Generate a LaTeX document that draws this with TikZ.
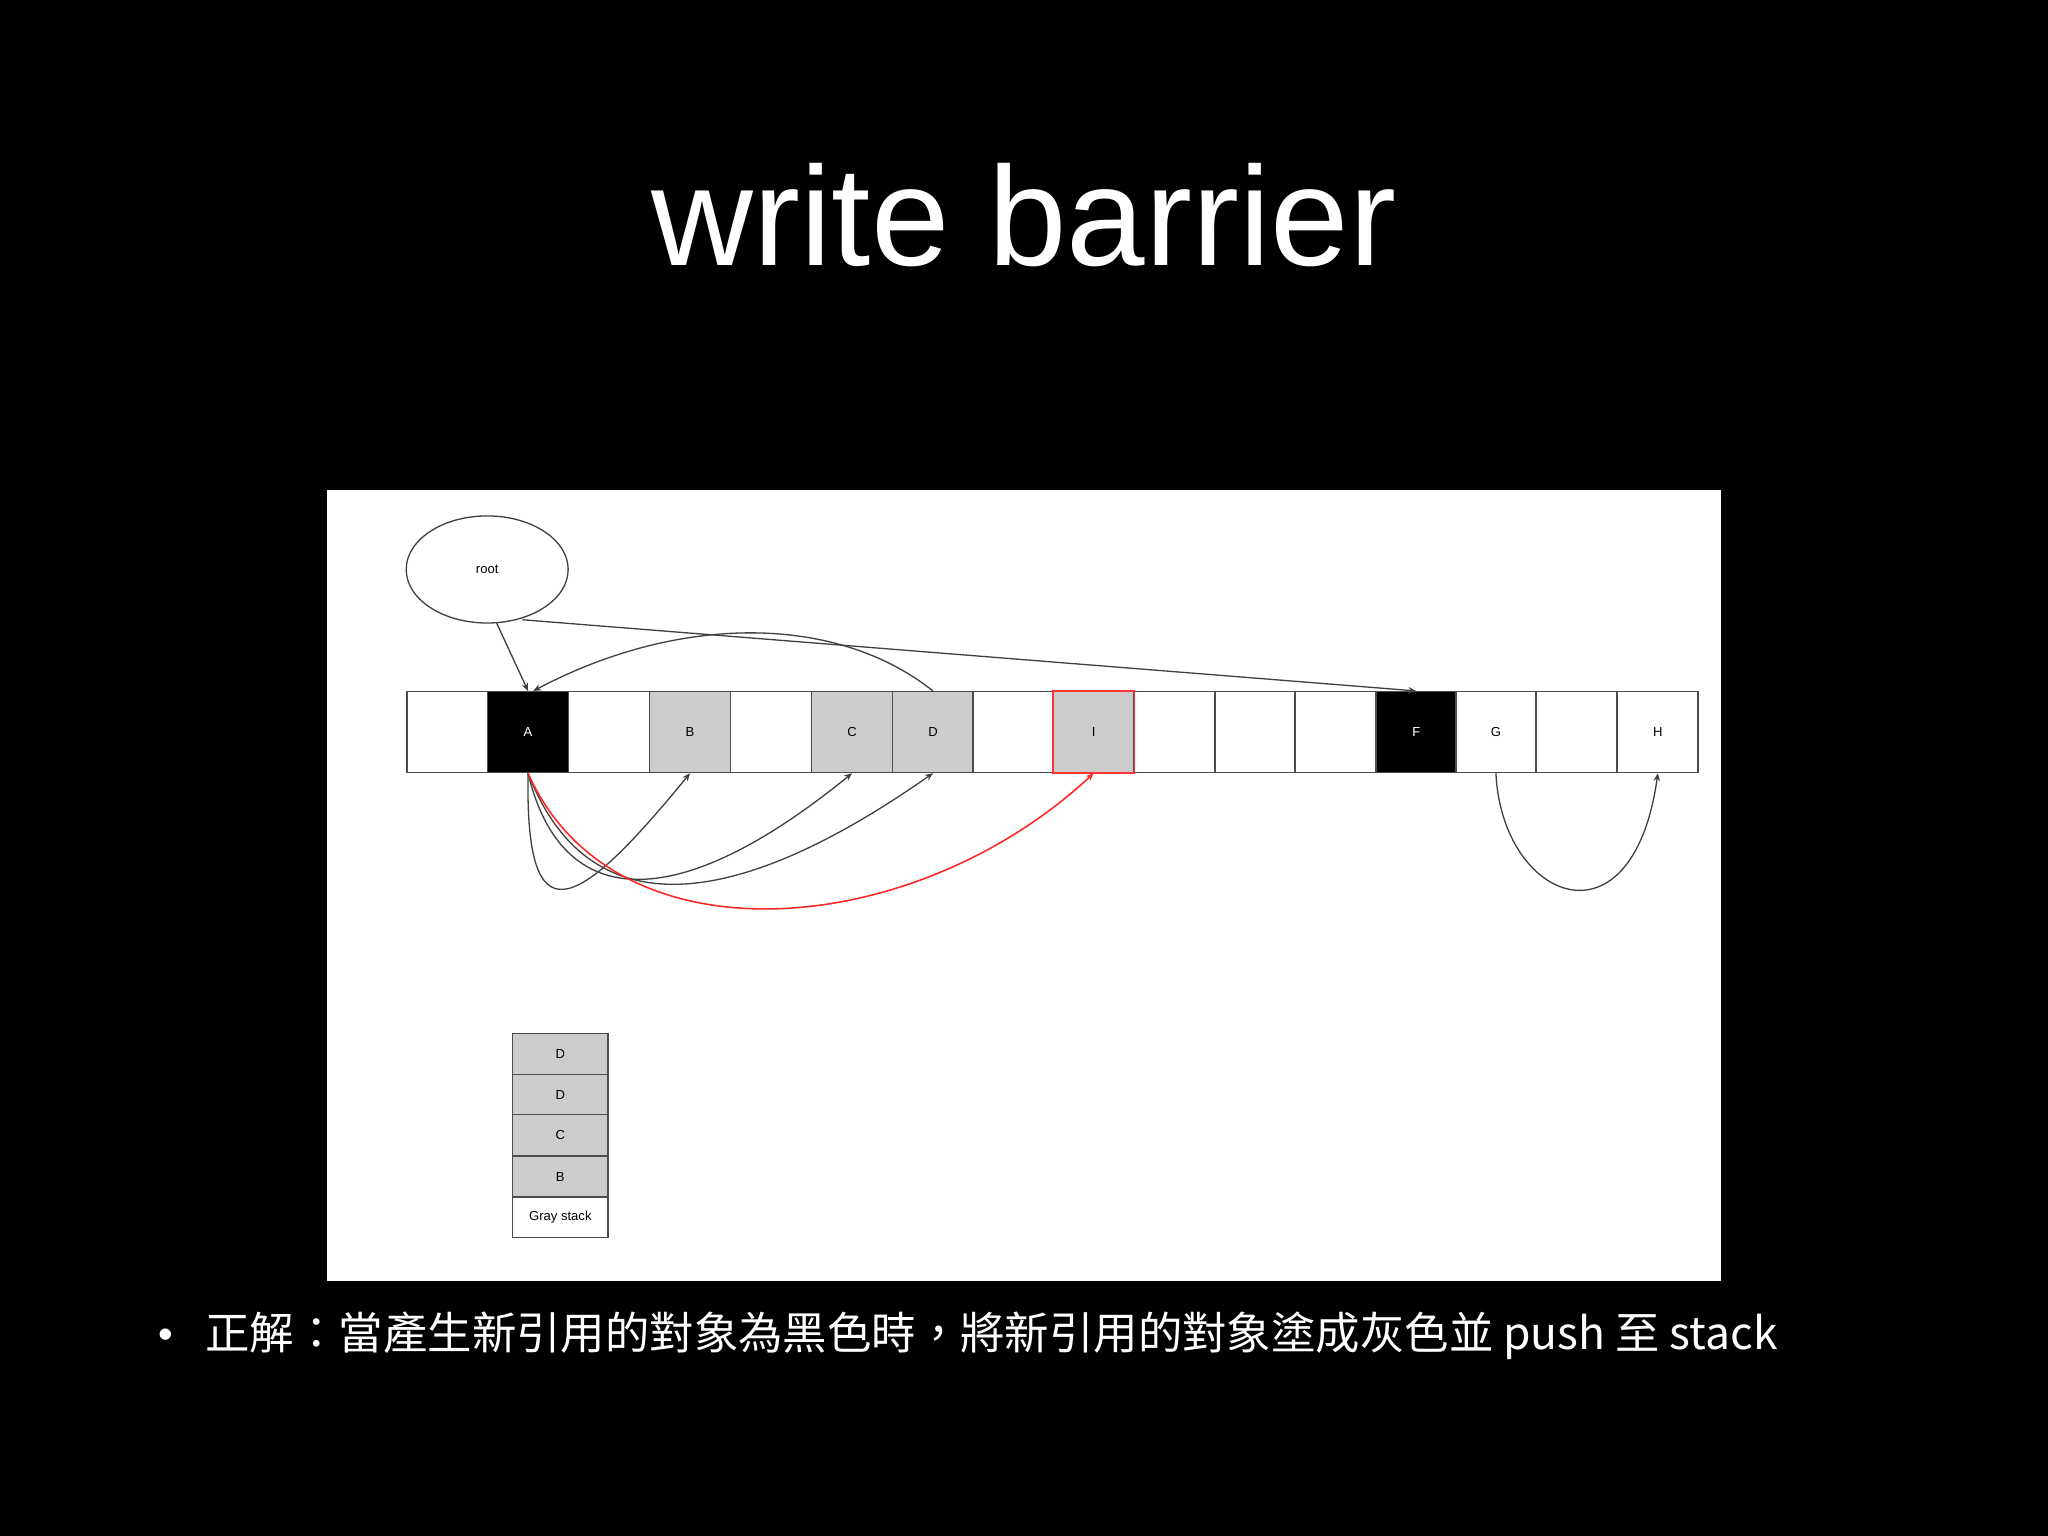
\documentclass[tikz,border=0pt]{standalone}
\usepackage{fontspec}
\usetikzlibrary{arrows.meta,shapes.geometric}
\setmainfont{Liberation Sans}
\newfontfamily\cjk{Noto Sans CJK TC}
\begin{document}
\begin{tikzpicture}[x=0.5pt,y=-0.5pt,
  cell/.style={draw=black!70,line width=0.5pt,minimum width=30.8pt,minimum height=31pt,inner sep=0pt,font=\fontsize{5}{6}\selectfont,anchor=north west},
  gcell/.style={cell,fill=black!20},
  bcell/.style={cell,fill=black,text=white},
  conn/.style={draw=black!75,line width=0.5pt,-{Stealth[length=3pt,width=2.5pt]}},
  rconn/.style={draw=red!85,line width=0.6pt,-{Stealth[length=3pt,width=2.5pt]}},
  scell/.style={draw=black!70,line width=0.5pt,fill=black!20,minimum width=36.5pt,minimum height=15.5pt,inner sep=0pt,font=\fontsize{5}{6}\selectfont,anchor=north west}]
\fill[black] (0,0) rectangle (1568,1176);
\fill[white] (250,375) rectangle (1318,981);
\node[text=white,font=\fontsize{54}{60}\selectfont] (title) at (784,165) {write barrier};
\node[ellipse,draw=black!75,line width=0.5pt,minimum width=62pt,minimum height=41pt,font=\fontsize{5}{6}\selectfont] (root) at (373,436) {root};
\foreach \i/\x/\t/\s in {1/311//cell,2/373/A/bcell,3/435//cell,4/497/B/gcell,5/559//cell,6/621/C/gcell,7/683/D/gcell,8/744//cell,9/806/I/gcell,10/868//cell,11/930//cell,12/991//cell,13/1053/F/bcell,14/1114/G/cell,15/1176//cell,16/1238/H/cell}
  \node[\s] (c\i) at (\x,529) {\t};
\draw[red!80,line width=0.6pt] (c9.north west) rectangle (c9.south east);
\draw[conn] (root.south) ++(7,-1) coordinate (r1) -- (c2.north);
\draw[conn] (root.south) ++(27,-3) coordinate (r2) -- (c13.north);
\draw[conn] (c7.north) .. controls (640,470) and (520,470) .. ([xshift=2pt]c2.north);
\draw[conn] (c2.south) .. controls (402,720) and (440,700) .. (c4.south);
\draw[conn] (c2.south) .. controls (430,700) and (520,700) .. (c6.south);
\draw[conn] (c2.south) .. controls (450,710) and (560,700) .. (c7.south);
\draw[rconn] (c2.south) .. controls (470,740) and (700,720) .. (c9.south);
\draw[conn] (c14.south) .. controls (1150,690) and (1250,730) .. (c16.south);
\foreach \i/\y/\t in {1/791/D,2/822/D,3/853/C,4/885/B}
  \node[scell] (s\i) at (392,\y) {\t};
\node[scell,fill=white] (s5) at (392,916) {Gray stack};
\node[text=white,font=\fontsize{16}{18}\selectfont] (bul) at (127,1025) {•};
\node[text=white,anchor=west,font=\cjk\fontsize{17}{20}\selectfont,inner sep=0pt] (txt) at (157,1023) {正解：當產生新引用的對象為黑色時，將新引用的對象塗成灰色並 push 至 stack};
\end{tikzpicture}
\end{document}
